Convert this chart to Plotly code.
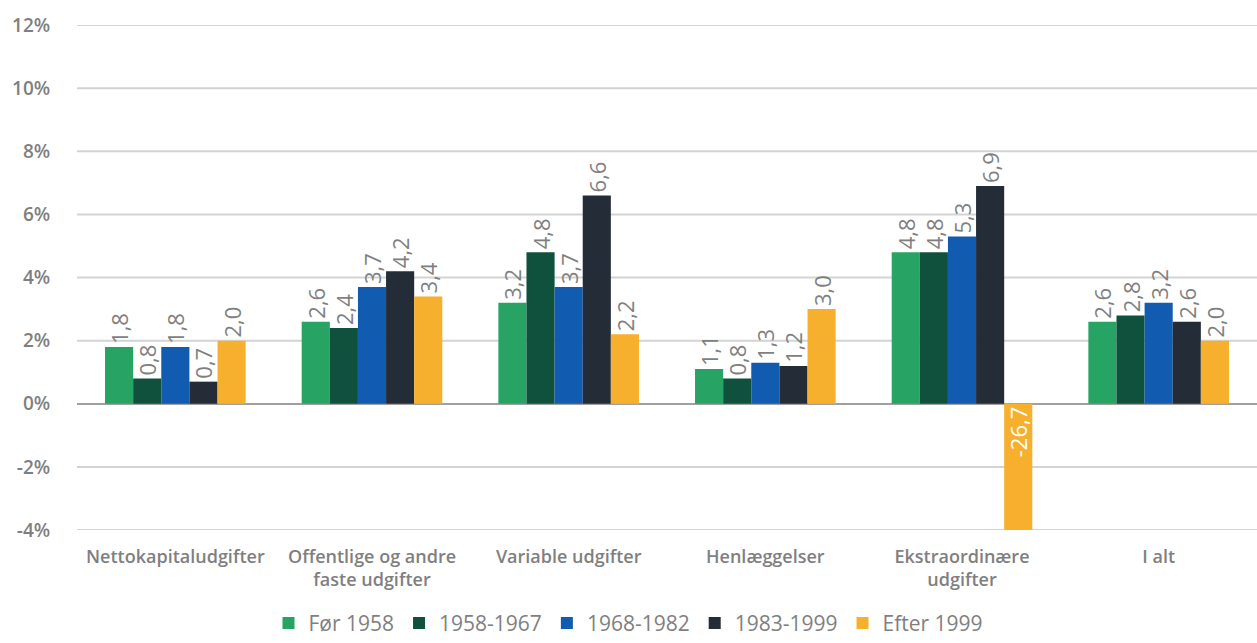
import plotly.graph_objects as go

categories = [
    "Nettokapitaludgifter",
    "Offentlige og andre<br>faste udgifter",
    "Variable udgifter",
    "Henlæggelser",
    "Ekstraordinære<br>udgifter",
    "I alt",
]

series_names = ["Før 1958", "1958-1967", "1968-1982", "1983-1999", "Efter 1999"]
series_colors = ["#27a463", "#10513d", "#115cb1", "#242c37", "#f6b02d"]

for_1958 = [1.8, 2.6, 3.2, 1.1, 4.8, 2.6]
p_1958_1967 = [0.8, 2.4, 4.8, 0.8, 4.8, 2.8]
p_1968_1982 = [1.8, 3.7, 3.7, 1.3, 5.3, 3.2]
p_1983_1999 = [0.7, 4.2, 6.6, 1.2, 6.9, 2.6]
efter_1999 = [2.0, 3.4, 2.2, 3.0, -26.7, 2.0]

series_values = [for_1958, p_1958_1967, p_1968_1982, p_1983_1999, efter_1999]

y_ticks = [-4, -2, 0, 2, 4, 6, 8, 10, 12]
y_tick_labels = [f"{t}%" for t in y_ticks]

FONT = "Open Sans"
GRAY = "#7f7f7f"


def fmt(v):
    # Danish decimal comma, plain hyphen for negatives
    return f"{v:.1f}".replace(".", ",")


fig = go.Figure()
for name, color, vals in zip(series_names, series_colors, series_values):
    # values beyond the axis floor get their label inside the bar
    inside = [v < y_ticks[0] for v in vals]
    fig.add_trace(go.Bar(
        x=categories,
        y=vals,
        name=name,
        marker=dict(color=color, line=dict(width=0)),
        text=[fmt(v) for v in vals],
        texttemplate="%{text}",
        textposition=["inside" if i else "outside" for i in inside],
        textangle=-90,
        insidetextanchor="start",
        outsidetextfont=dict(family=FONT, size=22, color=GRAY),
        insidetextfont=dict(family=FONT, size=22, color="white"),
        constraintext="none",
    ))

# horizontal grid at every tick, including the range ends
for t in y_ticks:
    if t == 0:
        continue
    fig.add_shape(
        type="line", xref="paper", yref="y",
        x0=0, x1=1, y0=t, y1=t,
        line=dict(color="#d3d3d3", width=2),
        layer="below",
    )

fig.update_layout(
    width=1257,
    height=643,
    barmode="group",
    bargap=0.285,
    bargroupgap=0,
    plot_bgcolor="white",
    paper_bgcolor="white",
    margin=dict(l=77, r=0, t=25, b=113, autoexpand=False),
    font=dict(family=FONT, color=GRAY),
    legend=dict(
        orientation="h",
        x=0.5,
        xanchor="center",
        xref="container",
        y=-0.185,
        yanchor="middle",
        yref="paper",
        font=dict(family=FONT, size=21, color=GRAY),
        itemwidth=30,
        traceorder="normal",
    ),
)

fig.update_yaxes(
    range=[-4, 12],
    tickmode="array",
    tickvals=y_ticks,
    ticktext=y_tick_labels,
    showgrid=False,
    zeroline=True,
    zerolinecolor="#a0a0a0",
    zerolinewidth=2,
    tickfont=dict(family=FONT, size=19, color=GRAY, weight=600),
    ticks="outside",
    ticklen=22,
    tickcolor="rgba(0,0,0,0)",
    showline=False,
)

fig.update_xaxes(
    showgrid=False,
    showline=False,
    tickfont=dict(family=FONT, size=18, color=GRAY, weight=600),
    ticks="outside",
    ticklen=10,
    tickcolor="rgba(0,0,0,0)",
)

fig.write_html("out.html")
